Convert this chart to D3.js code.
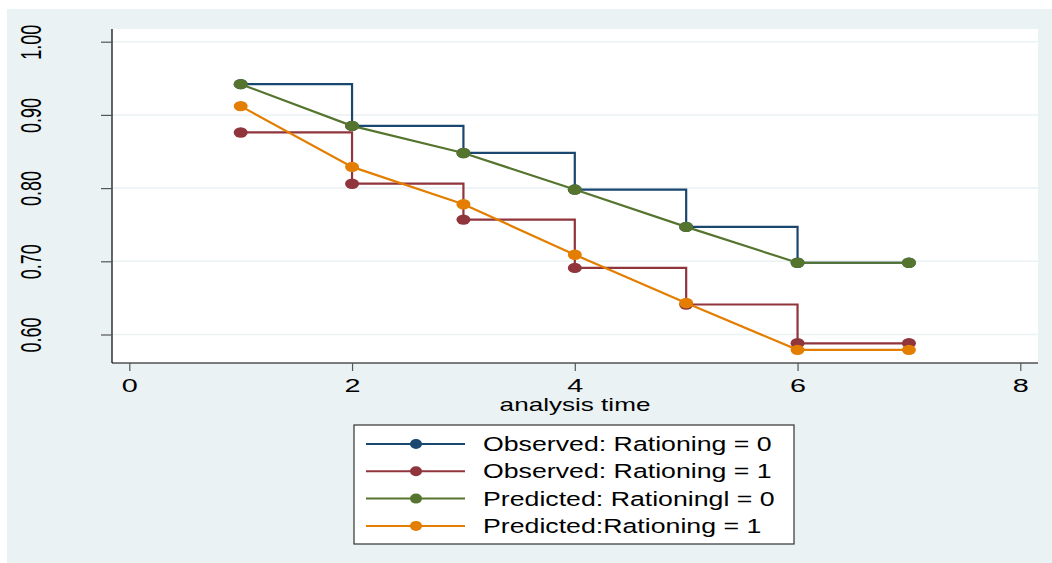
<!DOCTYPE html>
<html><head><meta charset="utf-8">
<script src="https://cdn.jsdelivr.net/npm/d3@7"></script>
<style>html,body{margin:0;padding:0;background:#fff;}svg{display:block;}</style>
</head><body>
<svg id="chart" width="1052" height="563"></svg>
<script>
const times = [1, 2, 3, 4, 5, 6, 7];
const observed0 = [0.942, 0.885, 0.848, 0.798, 0.747, 0.698, 0.698];
const observed1 = [0.876, 0.806, 0.757, 0.691, 0.641, 0.588, 0.588];
const predicted0 = [0.942, 0.885, 0.848, 0.798, 0.747, 0.698, 0.698];
const predicted1 = [0.912, 0.829, 0.778, 0.709, 0.643, 0.579, 0.579];
const xTicks = [0, 2, 4, 6, 8];
const yTicks = [0.6, 0.7, 0.8, 0.9, 1.0];
const seriesNames = ["Observed: Rationing = 0", "Observed: Rationing = 1", "Predicted: Rationingl = 0", "Predicted:Rationing = 1"];
const seriesColors = ["#1a476f", "#90353b", "#55752f", "#e37e00"];
const xTitle = "analysis time";

const svg = d3.select("#chart");
const K = 1.6; // horizontal stretch of text
const plot = {left: 112, right: 1038, top: 29, bottom: 363};

svg.append("rect").attr("x", 7).attr("y", 9).attr("width", 1045).attr("height", 554).attr("fill", "#eaf2f3");
svg.append("rect").attr("x", plot.left).attr("y", plot.top).attr("width", plot.right - plot.left).attr("height", plot.bottom - plot.top).attr("fill", "#fff");

const x = d3.scaleLinear().domain([0, 8]).range([129.3, 1020.3]);
const y = d3.scaleLinear().domain([0.6, 1.0]).range([334.5, 41.7]);

// gridlines
svg.append("g").selectAll("line").data(yTicks).join("line")
  .attr("x1", plot.left).attr("x2", plot.right)
  .attr("y1", d => y(d)).attr("y2", d => y(d))
  .attr("stroke", "#eaf2f3").attr("stroke-width", 1.5);

// axes
const yAxis = svg.append("g").attr("transform", `translate(${plot.left},0)`)
  .call(d3.axisLeft(y).tickValues(yTicks).tickSize(11).tickFormat(d3.format(".2f")));
yAxis.select(".domain").attr("d", `M0,${plot.top}V${plot.bottom}`).attr("stroke", "#000").attr("stroke-width", 1.2);
yAxis.selectAll(".tick line").attr("stroke", "#555").attr("stroke-width", 1.2);
yAxis.selectAll(".tick text")
  .attr("x", null).attr("dy", null)
  .attr("font-family", "Liberation Sans, Arial, sans-serif").attr("font-size", 18).attr("fill", "#000")
  .attr("text-anchor", "middle")
  .attr("transform", `translate(-81,0) scale(${K},1) rotate(-90) translate(0,6.5)`);

const xAxis = svg.append("g").attr("transform", `translate(0,${plot.bottom})`)
  .call(d3.axisBottom(x).tickValues(xTicks).tickSize(8).tickFormat(d3.format("d")));
xAxis.select(".domain").attr("d", `M${plot.left},0H${plot.right}`).attr("stroke", "#000").attr("stroke-width", 1.2);
xAxis.selectAll(".tick line").attr("stroke", "#555").attr("stroke-width", 1.2);
xAxis.selectAll(".tick text")
  .attr("y", null).attr("dy", null)
  .attr("font-family", "Liberation Sans, Arial, sans-serif").attr("font-size", 18).attr("fill", "#000")
  .attr("transform", `translate(0,29) scale(${K},1)`);

svg.append("text").text(xTitle)
  .attr("font-family", "Liberation Sans, Arial, sans-serif").attr("font-size", 18).attr("fill", "#000")
  .attr("text-anchor", "middle")
  .attr("transform", `translate(${(plot.left + plot.right) / 2},411) scale(1.45,1)`);

// series
const allSeries = [observed0, observed1, predicted0, predicted1];
const isStep = [true, true, false, false];
allSeries.forEach((vals, i) => {
  const pts = times.map((t, j) => [t, vals[j]]);
  const line = d3.line().x(d => x(d[0])).y(d => y(d[1])).curve(isStep[i] ? d3.curveStepAfter : d3.curveLinear);
  const g = svg.append("g");
  g.append("path").attr("d", line(pts)).attr("fill", "none").attr("stroke", seriesColors[i]).attr("stroke-width", 2.2);
  g.selectAll("ellipse").data(pts).join("ellipse")
    .attr("cx", d => x(d[0])).attr("cy", d => y(d[1]))
    .attr("rx", 7).attr("ry", 5.2).attr("fill", seriesColors[i]);
});

// legend
const leg = svg.append("g");
leg.append("rect").attr("x", 354).attr("y", 425).attr("width", 440).attr("height", 119)
  .attr("fill", "#fff").attr("stroke", "#333").attr("stroke-width", 1.2);
seriesNames.forEach((name, i) => {
  const cy = 444 + i * 27.3;
  leg.append("line").attr("x1", 366).attr("x2", 465).attr("y1", cy).attr("y2", cy)
    .attr("stroke", seriesColors[i]).attr("stroke-width", 2);
  leg.append("ellipse").attr("cx", 416).attr("cy", cy).attr("rx", 6).attr("ry", 5).attr("fill", seriesColors[i]);
  leg.append("text").text(name)
    .attr("font-family", "Liberation Sans, Arial, sans-serif").attr("font-size", 19.5).attr("fill", "#000")
    .attr("transform", `translate(483,${cy + 7}) scale(1.37,1)`);
});
</script>
</body></html>
